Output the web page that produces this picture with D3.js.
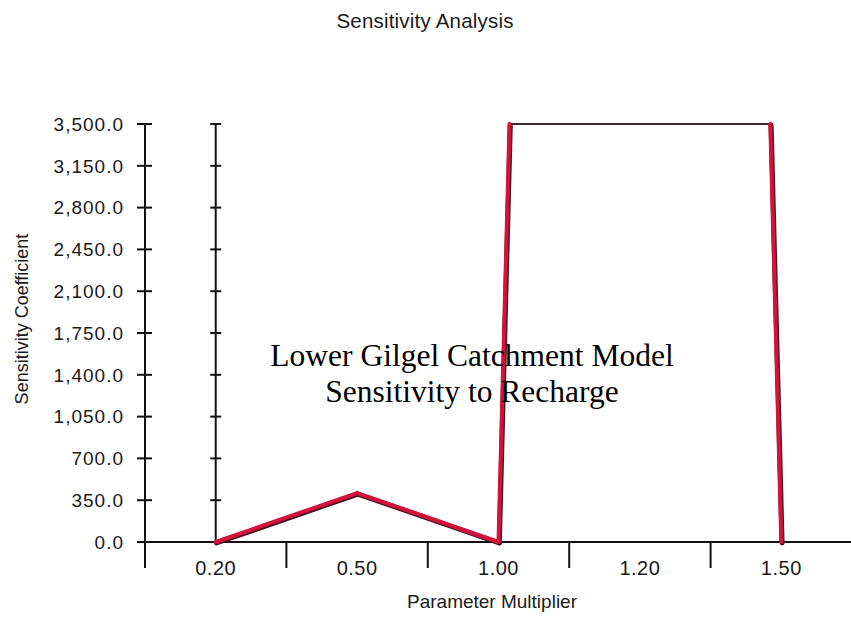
<!DOCTYPE html>
<html><head><meta charset="utf-8">
<script src="https://cdn.jsdelivr.net/npm/d3@7"></script>
<style>body{margin:0;background:#fff}svg{display:block}text{font-family:"Liberation Sans",Arial,sans-serif;fill:#1a1a1a}</style>
</head><body>
<script>
const categories = ["0.20","0.50","1.00","1.20","1.50"];
const values = [0, 410, 0, 45000, 0];
const yTicks = [0,350,700,1050,1400,1750,2100,2450,2800,3150,3500];
const title = "Sensitivity Analysis";
const xTitle = "Parameter Multiplier";
const yTitle = "Sensitivity Coefficient";
const note = ["Lower Gilgel Catchment Model","Sensitivity to Recharge"];

const W=851,H=618;
const svg=d3.select("body").append("svg").attr("width",W).attr("height",H);
const x=d3.scaleBand().domain(categories).range([145,852]).paddingInner(0).paddingOuter(0);
const y=d3.scaleLinear().domain([0,3500]).range([542,124]);
const cx=c=>x(c)+x.bandwidth()/2;
const yMax=y.domain()[1];

// axes
const ax=svg.append("g").attr("stroke","#111").attr("stroke-width",2);
ax.append("line").attr("x1",x.range()[0]).attr("x2",x.range()[0]).attr("y1",y(yMax)).attr("y2",y(0)+26);
ax.append("line").attr("x1",x.range()[0]-8).attr("x2",W).attr("y1",y(0)).attr("y2",y(0));
ax.append("line").attr("x1",cx(categories[0])).attr("x2",cx(categories[0])).attr("y1",y(yMax)).attr("y2",y(0));
yTicks.forEach(v=>{
  ax.append("line").attr("x1",x.range()[0]-8).attr("x2",x.range()[0]+7).attr("y1",y(v)).attr("y2",y(v));
  ax.append("line").attr("x1",cx(categories[0])-5.5).attr("x2",cx(categories[0])+5.5).attr("y1",y(v)).attr("y2",y(v));
});
categories.slice(1).forEach(c=>{
  ax.append("line").attr("x1",x(c)).attr("x2",x(c)).attr("y1",y(0)).attr("y2",y(0)+26);
});
const fmt=d3.format(",.1f");
svg.append("g").selectAll("text").data(yTicks).join("text")
  .attr("x",124).attr("y",d=>y(d)).attr("dy","0.36em").attr("text-anchor","end")
  .style("font-size","19px").style("letter-spacing","1px").text(d=>fmt(d));
svg.append("g").selectAll("text").data(categories).join("text")
  .attr("x",d=>cx(d)).attr("y",575).attr("text-anchor","middle")
  .style("font-size","20px").style("letter-spacing","0.5px").text(d=>d);

svg.append("text").attr("x",425).attr("y",28).attr("text-anchor","middle").style("font-size","20.5px").style("letter-spacing","0.2px").text(title);
svg.append("text").attr("x",492).attr("y",608).attr("text-anchor","middle").style("font-size","19px").text(xTitle);
svg.append("text").attr("transform","translate(28,319) rotate(-90)").attr("text-anchor","middle").style("font-size","18px").text(yTitle);

// build clipped polyline in data space
const pts=[];
for(let i=0;i<categories.length;i++){
  const v=values[i];
  if(i>0){
    const v0=values[i-1];
    if((v0>yMax)!==(v>yMax)){
      const t=(yMax-v0)/(v-v0);
      pts.push({px:cx(categories[i-1])+t*(cx(categories[i])-cx(categories[i-1])),v:yMax});
    }
  }
  if(v<=yMax) pts.push({px:cx(categories[i]),v:v});
}
const line=d3.line().x(d=>d.px).y(d=>y(d.v));
const segs=[];
for(let i=1;i<pts.length;i++) segs.push([pts[i-1],pts[i]]);
const g=svg.append("g");
segs.filter(s=>s[0].v===yMax&&s[1].v===yMax).forEach(s=>{
  g.append("path").attr("d",line(s)).attr("fill","none").attr("stroke","#3a2a2e").attr("stroke-width",2);
});
const redSegs=segs.filter(s=>!(s[0].v===yMax&&s[1].v===yMax));
redSegs.forEach(s=>{
  g.append("path").attr("d",line(s)).attr("transform","translate(0.8,1)").attr("fill","none").attr("stroke","#4a1020").attr("stroke-width",5).attr("stroke-linecap","round");
});
redSegs.forEach(s=>{
  g.append("path").attr("d",line(s)).attr("fill","none").attr("stroke","#d4123e").attr("stroke-width",4).attr("stroke-linecap","round");
});

// annotation
const ann=svg.append("text").attr("text-anchor","middle").style("font-family","'Liberation Serif','Times New Roman',serif").style("font-size","31.5px");
ann.selectAll("tspan").data(note).join("tspan").attr("x",472).attr("y",(d,i)=>366+i*36).style("fill","#000").text(d=>d);
</script>
</body></html>
